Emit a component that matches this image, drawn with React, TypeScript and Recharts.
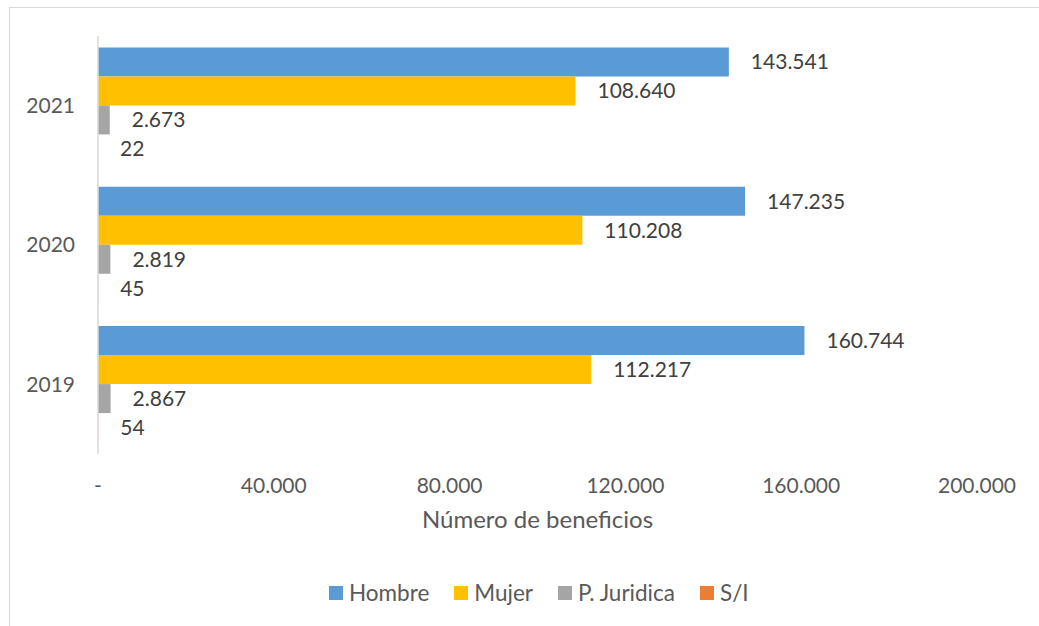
import { BarChart, Bar, XAxis, YAxis, LabelList } from "recharts";

const years = ["2021", "2020", "2019"];
const hombre = [143541, 147235, 160744];
const mujer = [108640, 110208, 112217];
const juridica = [2673, 2819, 2867];
const sinInfo = [22, 45, 54];
const xTicks = [0, 40000, 80000, 120000, 160000, 200000];

const series = [
  { key: "hombre", name: "Hombre", color: "#5B9BD5" },
  { key: "mujer", name: "Mujer", color: "#FFC000" },
  { key: "juridica", name: "P. Juridica", color: "#A5A5A5" },
  { key: "sinInfo", name: "S/I", color: "#ED7D31" },
];

const data = years.map((year, i) => ({
  year,
  hombre: hombre[i],
  mujer: mujer[i],
  juridica: juridica[i],
  sinInfo: sinInfo[i],
}));

const FONT = "Lato, 'Open Sans', sans-serif";

const fmt = (n: number) => String(n).replace(/\B(?=(\d{3})+(?!\d))/g, ".");
const fmtTick = (n: number) => (n === 0 ? "-" : fmt(n));

export default function App() {
  return (
    <div
      style={{
        position: "fixed",
        inset: 0,
        overflow: "hidden",
        background: "#fff",
        fontFamily: FONT,
      }}
    >
      <div
        style={{
          position: "absolute",
          left: 9,
          top: 7,
          width: 1100,
          height: 700,
          border: "1px solid #d9d9d9",
        }}
      />
      <div style={{ position: "absolute", left: 0, top: 0 }}>
        <BarChart
          width={1039}
          height={626}
          data={data}
          layout="vertical"
          margin={{ top: 36, right: 62, bottom: 94, left: 0 }}
          barCategoryGap="8.2%"
          barGap={0}
        >
          <XAxis
            type="number"
            domain={[0, 200000]}
            ticks={xTicks}
            tickFormatter={fmtTick}
            axisLine={false}
            tickLine={false}
            tickMargin={18}
            height={78}
            tick={{ fontSize: 21, fill: "#595959", fontFamily: FONT }}
            label={{
              value: "Número de beneficios",
              position: "insideBottom",
              offset: 4,
              fontSize: 24,
              fill: "#595959",
              fontFamily: FONT,
            }}
          />
          <YAxis
            type="category"
            dataKey="year"
            width={98}
            axisLine={{ stroke: "#d9d9d9", strokeWidth: 1.5 }}
            tickLine={false}
            tickMargin={17}
            tick={{ fontSize: 21, fill: "#595959", fontFamily: FONT }}
          />
          {series.map((s) => (
            <Bar
              key={s.key}
              dataKey={s.key}
              name={s.name}
              fill={s.color}
              isAnimationActive={false}
            >
              <LabelList
                dataKey={s.key}
                position="right"
                offset={22}
                formatter={(v: any) => fmt(Number(v))}
                style={{ fontSize: 21, fill: "#404040", fontFamily: FONT }}
              />
            </Bar>
          ))}
        </BarChart>
      </div>
      <div
        style={{
          position: "absolute",
          left: 329,
          top: 579,
          display: "flex",
          alignItems: "center",
          gap: 25,
          fontSize: 22.5,
          color: "#595959",
        }}
      >
        {series.map((s) => (
          <div key={s.key} style={{ display: "flex", alignItems: "center", gap: 6 }}>
            <span style={{ width: 14, height: 14, background: s.color, display: "inline-block" }} />
            <span>{s.name}</span>
          </div>
        ))}
      </div>
    </div>
  );
}
